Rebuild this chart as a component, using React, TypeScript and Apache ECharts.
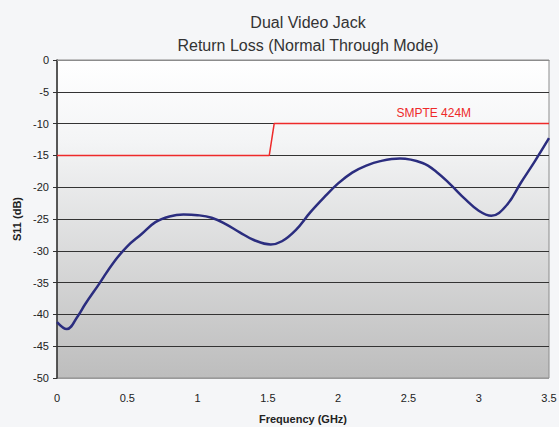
import React, { useEffect, useRef } from "react";
import * as echarts from "echarts";

const titleLines = ["Dual Video Jack", "Return Loss (Normal Through Mode)"];
const xTicks = { min: 0, max: 3.5, interval: 0.5 };
const yTicks = { min: -50, max: 0, interval: 5 };

const s11Freq = [0, 0.07, 0.15, 0.2, 0.3, 0.4, 0.5, 0.6, 0.7, 0.8, 0.9, 1.0, 1.1, 1.2, 1.3, 1.4, 1.52, 1.6, 1.7, 1.8, 1.9, 2.0, 2.1, 2.2, 2.3, 2.44, 2.6, 2.7, 2.8, 2.9, 3.0, 3.09, 3.2, 3.3, 3.4, 3.5];
const s11Db = [-41.2, -42.3, -40.2, -38.4, -35.2, -31.9, -29.3, -27.4, -25.5, -24.6, -24.3, -24.4, -24.8, -25.8, -27.1, -28.3, -29.0, -28.5, -26.7, -24.0, -21.6, -19.4, -17.7, -16.6, -15.9, -15.5, -16.2, -17.6, -19.6, -21.8, -23.7, -24.5, -22.8, -19.3, -15.9, -12.3];

const limitFreq = [0, 1.51, 1.545, 3.5];
const limitDb = [-15, -15, -10, -10];
const limitLabel = "SMPTE 424M";
const limitLabelAt = [2.68, -10];

export default function App() {
  const ref = useRef<HTMLDivElement>(null);
  useEffect(() => {
    document.body.style.margin = "0";
    document.body.style.background = "#f5f6f8";
    const chart = echarts.init(ref.current!, null, { renderer: "svg" });
    const font = "Liberation Sans, Arial, sans-serif";
    const nSplits = (yTicks.max - yTicks.min) / yTicks.interval + 1;
    const splitColors = Array.from({ length: nSplits }, (_, i) => (i === 0 ? "#999999" : "#333333"));
    chart.setOption({
      animation: false,
      backgroundColor: "#f5f6f8",
      textStyle: { fontFamily: font },
      title: {
        text: titleLines.join("\n"),
        left: 303,
        textAlign: "center",
        top: 6,
        textStyle: { fontFamily: font, fontSize: 16, fontWeight: "normal", color: "#333333", lineHeight: 23 },
      },
      grid: {
        left: 57,
        right: 10,
        top: 60,
        bottom: 49,
        containLabel: false,
        outerBoundsMode: "none",
        show: true,
        borderColor: "#8c8c8c",
        borderWidth: 1,
        backgroundColor: new echarts.graphic.LinearGradient(0, 0, 0, 1, [
          { offset: 0, color: "#ffffff" },
          { offset: 0.25, color: "#f4f5f6" },
          { offset: 1, color: "#bdbdbd" },
        ]),
      },
      xAxis: {
        type: "value",
        min: xTicks.min,
        max: xTicks.max,
        interval: xTicks.interval,
        name: "Frequency (GHz)",
        nameLocation: "middle",
        nameGap: 35,
        nameTextStyle: { fontFamily: font, fontSize: 11, fontWeight: "bold", color: "#222222" },
        axisLine: { show: true, lineStyle: { color: "#8c8c8c", width: 1 } },
        axisTick: { show: false },
        splitLine: { show: false },
        axisLabel: { fontFamily: font, fontSize: 11, color: "#222222", margin: 14 },
      },
      yAxis: {
        type: "value",
        min: yTicks.min,
        max: yTicks.max,
        interval: yTicks.interval,
        name: "S11 (dB)",
        nameLocation: "middle",
        nameGap: 33,
        nameTextStyle: { fontFamily: font, fontSize: 11, fontWeight: "bold", color: "#222222" },
        axisLine: { show: true, lineStyle: { color: "#333333", width: 1.5 } },
        axisTick: { show: true, length: 4, lineStyle: { color: "#333333" } },
        splitLine: { show: true, lineStyle: { color: splitColors, width: 1 } },
        axisLabel: { fontFamily: font, fontSize: 11, color: "#222222", margin: 8 },
      },
      series: [
        {
          type: "line",
          data: limitFreq.map((f, i) => [f, limitDb[i]]),
          showSymbol: false,
          lineStyle: { color: "#ee2a2a", width: 1.5 },
          markPoint: {
            symbol: "circle",
            symbolSize: 0,
            data: [{ coord: limitLabelAt }],
            label: {
              show: true,
              formatter: limitLabel,
              position: "top",
              distance: 5,
              color: "#ee2a2a",
              fontFamily: font,
              fontSize: 12,
            },
          },
          z: 3,
        },
        {
          type: "line",
          data: s11Freq.map((f, i) => [f, s11Db[i]]),
          smooth: 0.4,
          showSymbol: false,
          lineStyle: { color: "#2b2d7f", width: 2.5 },
          z: 4,
        },
      ],
    });
    return () => chart.dispose();
  }, []);
  return <div ref={ref} style={{ width: 559, height: 427 }} />;
}
